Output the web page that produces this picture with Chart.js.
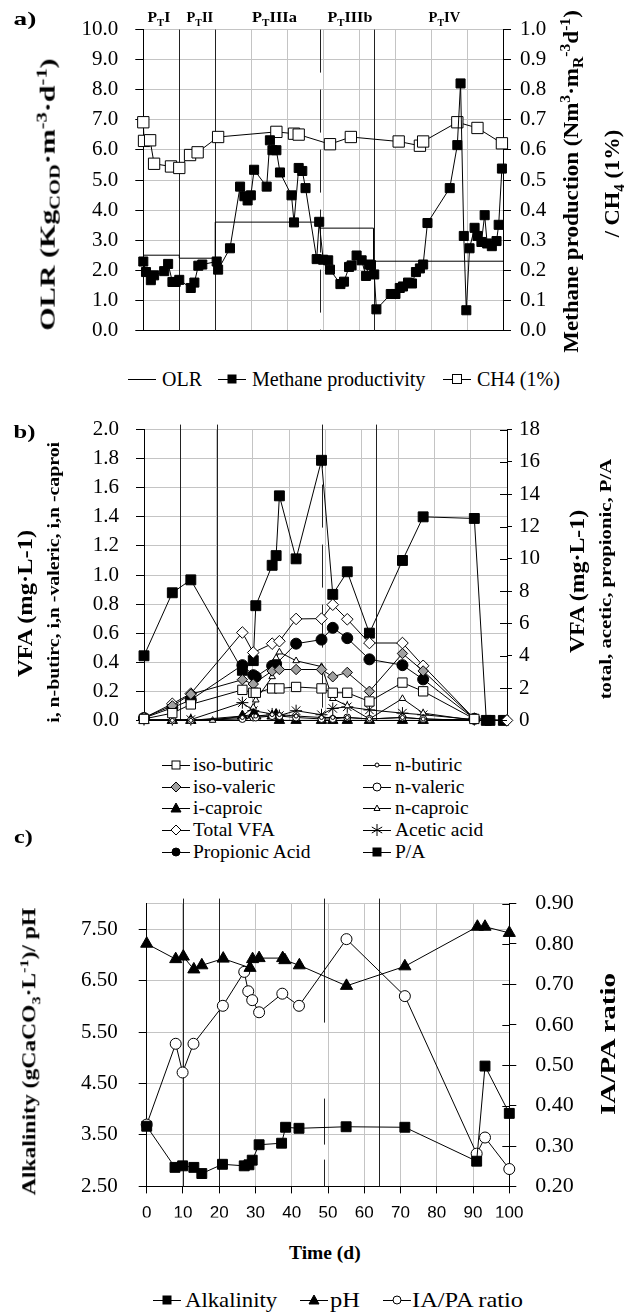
<!DOCTYPE html>
<html>
<head>
<meta charset="utf-8">
<title>Reactor follow-up: OLR, VFA, alkalinity</title>
<script src="https://cdn.jsdelivr.net/npm/chart.js@4.4.1/dist/chart.umd.min.js"></script>
<style>
html, body { margin:0; padding:0; background:#fff; }
#page { position:relative; width:624px; height:1315px; overflow:hidden; background:#fff; font-family:"Liberation Serif","Times New Roman",serif; color:#000; }
#page canvas { position:absolute; left:0; }
.txt { position:absolute; white-space:nowrap; line-height:1; }
.txt sub, .txt sup { font-size:68%; line-height:0; }
.mk { position:absolute; line-height:0; }
</style>
</head>
<body>
<div id="page">
  <canvas id="chartA" width="624" height="360" style="top:0px;width:624px;height:360px;"></canvas>
  <canvas id="chartB" width="624" height="350" style="top:400px;width:624px;height:350px;"></canvas>
  <canvas id="chartC" width="624" height="350" style="top:870px;width:624px;height:350px;"></canvas>
</div>
<script>
// ===== common =====
var GRID = "#c4c4c4";
var SERIF = "'Liberation Serif', 'Times New Roman', serif";
var SANS = "'Liberation Sans', Arial, sans-serif";
Chart.defaults.font.family = SERIF;
Chart.defaults.color = "#000";

// period boundaries (days)
var PERIOD_DAYS = [10, 20, 64];
var DASH_DAYS = [49];
var PERIOD_NAMES = ["P<sub>T</sub>I", "P<sub>T</sub>II", "P<sub>T</sub>IIIa", "P<sub>T</sub>IIIb", "P<sub>T</sub>IV"];

var X_TICKS = [0, 10, 20, 30, 40, 50, 60, 70, 80, 90, 100];

// ===== a) OLR / methane =====
var OLR_TICKS = [0, 1, 2, 3, 4, 5, 6, 7, 8, 9, 10];
var PROD_TICKS = [0, 0.1, 0.2, 0.3, 0.4, 0.5, 0.6, 0.7, 0.8, 0.9, 1.0];

var OLR_DAYS = [0, 10, 20, 49, 64, 100];
var OLR = [2.5, 2.4, 3.6, 3.4, 2.3, 2.3];

var METHANE_DAYS = [0, 0.75, 2.1, 3, 5.8, 6.9, 8.1, 9, 10, 13.2, 14.2, 15.3, 16.4, 20.4, 20.8, 24.1,
  26.9, 28.1, 29, 29.9, 30.8, 34.3, 35.2, 35.9, 37, 38, 41.2, 41.9, 43.2, 44.2, 45.1, 48.2, 48.9,
  50, 51.4, 51.9, 54.8, 55.8, 57.2, 57.9, 59.3, 60.7, 61.9, 62.7, 63.3, 64.2, 64.8, 68.8, 70.1,
  71.3, 72.2, 73.6, 74.7, 75.8, 76.9, 77.8, 79, 85.2, 87.3, 88.2, 89.1, 89.8, 90.7, 92.1, 92.9,
  94, 94.9, 95.6, 96.9, 98.2, 98.8, 99.7];
var METHANE = [0.229, 0.194, 0.167, 0.183, 0.197, 0.221, 0.161, 0.161, 0.168, 0.141, 0.159, 0.215, 0.219, 0.229, 0.202, 0.273,
  0.478, 0.446, 0.432, 0.449, 0.534, 0.478, 0.632, 0.599, 0.599, 0.525, 0.449, 0.359, 0.540, 0.530, 0.473, 0.237, 0.361,
  0.235, 0.233, 0.202, 0.154, 0.162, 0.211, 0.216, 0.249, 0.233, 0.181, 0.219, 0.217, 0.186, 0.070, 0.121, 0.121,
  0.141, 0.146, 0.159, 0.156, 0.194, 0.206, 0.219, 0.357, 0.473, 0.616, 0.821, 0.314, 0.067, 0.273, 0.341, 0.314,
  0.294, 0.383, 0.289, 0.280, 0.297, 0.351, 0.538];

var CH4_DAYS = [0, 0.2, 1.9, 3, 7.7, 10, 13, 15.1, 20.8, 37, 41.9, 43.2, 51.9, 57.7, 71, 76.9, 77.8, 87.3, 92.9, 99.7];
var CH4 = [0.692, 0.630, 0.632, 0.554, 0.545, 0.540, 0.583, 0.592, 0.643, 0.660, 0.654, 0.651, 0.619, 0.643, 0.628, 0.614, 0.628, 0.692, 0.673, 0.622];

// ===== b) VFA =====
var VFA_L_TICKS = [0, 0.2, 0.4, 0.6, 0.8, 1.0, 1.2, 1.4, 1.6, 1.8, 2.0];
var VFA_R_TICKS = [0, 2, 4, 6, 8, 10, 12, 14, 16, 18];

var VFA_DAYS = [0, 7.8, 12.9, 18.9, 27.1, 30.1, 30.8, 35.3, 36.4, 37.3, 41.9, 48.9, 52, 56, 62.1, 71.2, 76.9, 91, 94.3, 95.3, 99, 100];
var ISO_BUTIRIC = [0.01, 0.05, 0.11, null, 0.21, 0.19, 0.19, 0.22, null, 0.22, 0.23, 0.22, 0.19, 0.19, 0.13, 0.26, 0.20, 0.01, null, null, null, null];
var N_BUTIRIC   = [0, 0, 0, null, 0.02, 0.03, 0.03, 0.04, null, 0.04, 0.03, 0.02, 0.02, 0.02, 0.01, 0.02, 0.01, 0, null, null, null, null];
var ISO_VALERIC = [0.02, 0.10, 0.18, null, 0.28, 0.25, null, 0.34, null, 0.35, 0.35, 0.35, 0.30, 0.33, 0.20, 0.46, 0.34, 0.01, null, null, null, null];
var N_VALERIC   = [0, 0, 0, null, 0.01, 0.02, 0.02, 0.03, null, 0.03, 0.02, 0.01, 0.01, 0.02, 0.01, 0.02, 0.01, 0, null, null, null, null];
var I_CAPROIC   = [0, 0, 0, null, 0.03, 0.04, 0.03, 0.03, 0.04, 0, 0, 0, 0, 0, 0, 0, 0, 0.01, null, null, null, null];
var N_CAPROIC   = [0, 0, 0, 0, 0.03, 0.09, 0.14, 0.30, 0.43, 0.47, 0.41, 0.37, 0.15, 0.10, 0.01, 0.15, 0.05, 0, null, null, null, null];
var TOTAL_VFA   = [0.15, 1.03, 1.66, null, 5.44, 4.2, null, 4.75, null, 4.9, 6.28, 6.3, 7.16, 6.26, 4.79, 4.79, 3.38, 0.1, null, null, null, 0];
var ACETIC      = [0.05, 0.05, 0.05, null, 1.1, 0.6, null, 0.4, null, 0.3, 0.6, 0.35, 0.74, 0.84, 0.65, 0.45, 0.35, 0.05, null, null, null, null];
var PROPIONIC   = [0.15, 0.78, 1.27, null, 3.42, 2.8, 2.7, 3.38, 3.5, null, 4.75, 5.0, 5.73, 5.09, 3.78, 3.42, 2.54, 0.1, null, null, null, null];
var P_A         = [4.0, 7.9, 8.7, null, 3.1, 3.7, 7.1, 9.6, 10.2, 13.9, 10.0, 16.1, 7.8, 9.2, 5.4, 9.9, 12.6, 12.5, 0, 0, 0, null];

// ===== c) alkalinity / pH / IA:PA =====
var ALK_TICKS = [2.5, 3.5, 4.5, 5.5, 6.5, 7.5, 8.0];
var RATIO_TICKS = [0.2, 0.3, 0.4, 0.5, 0.6, 0.7, 0.8, 0.9];

var ALK_DAYS = [0, 7.8, 9.9, 13, 15.2, 20.9, 26.9, 28.2, 29.1, 31, 37.2, 38.3, 42, 55, 71.2, 91, 93.3, 100];
var ALKALINITY = [3.67, 2.87, 2.90, 2.87, 2.75, 2.93, 2.90, 2.92, 3.01, 3.31, 3.34, 3.65, 3.63, 3.66, 3.65, 2.99, 4.84, 3.92];
var PH_DAYS = [0, 8, 10.1, 13, 15.2, 21.1, 28.5, 29.2, 31, 37.5, 38.1, 42.1, 55.1, 71.2, 91.2, 93.3, 100];
var PH = [7.22, 6.92, 6.97, 6.72, 6.80, 6.93, 6.75, 6.92, 6.94, 6.94, 6.90, 6.80, 6.40, 6.78, 7.55, 7.55, 7.43];
var IAPA_DAYS = [0, 8, 9.9, 12.9, 21, 26.9, 28, 29.1, 31, 37.4, 42, 55.1, 71.2, 91, 93.3, 100];
var IAPA = [0.353, 0.553, 0.482, 0.553, 0.647, 0.731, 0.683, 0.661, 0.631, 0.677, 0.647, 0.812, 0.671, 0.281, 0.321, 0.243];

// ===== helpers =====
function pairs(days, vals) {
  var out = [];
  for (var i = 0; i < days.length; i++) {
    if (vals[i] !== null && vals[i] !== undefined) out.push({ x: days[i], y: vals[i] });
  }
  return out;
}

function series(label, days, vals, axis, style, radius, fill) {
  return {
    label: label, data: pairs(days, vals), yAxisID: axis,
    borderColor: "#000", borderWidth: 1, tension: 0, clip: false,
    pointStyle: style, pointRadius: radius, pointBackgroundColor: fill,
    pointBorderColor: "#000", pointBorderWidth: 1
  };
}

function fixedTicks(list) {
  return function (s) { s.ticks = list.map(function (v) { return { value: v }; }); };
}

function yAxis(pos, list, dec, width, pad, opt) {
  opt = opt || {};
  var top = list[list.length - 1], bottom = list[0];
  return {
    type: "linear", position: pos, min: bottom, max: top,
    afterBuildTicks: fixedTicks(list),
    afterFit: function (s) { s.width = width; },
    ticks: {
      color: "#000", padding: pad, font: { family: SERIF, size: opt.size || 21 },
      callback: function (v) { return (opt.hideTop && v === top) ? "" : v.toFixed(dec); }
    },
    grid: {
      drawOnChartArea: pos === "left", tickLength: opt.tick || 8,
      color: function (c) { return c.tick && c.tick.value === bottom ? "rgba(0,0,0,0)" : GRID; },
      tickColor: function (c) { return (opt.hideTop && c.tick && c.tick.value === top) ? "rgba(0,0,0,0)" : "#000"; }
    },
    border: { color: "#000", width: 1 }
  };
}

function xAxis(height, labels) {
  return {
    type: "linear", min: 0, max: 100,
    afterBuildTicks: fixedTicks(X_TICKS),
    afterFit: function (s) { s.height = height; },
    ticks: { display: labels, color: "#000", padding: 10, maxRotation: 0, autoSkip: false, font: { family: SANS, size: 17 } },
    grid: { color: GRID, drawTicks: labels, tickColor: "#000", tickLength: 7 },
    border: { color: "#000", width: 1 }
  };
}

// vertical lines at period changes
var periodLines = {
  id: "periodLines",
  beforeDatasetsDraw: function (chart, args, o) {
    var x = chart.scales.x, a = chart.chartArea, c = chart.ctx;
    c.save();
    c.strokeStyle = "#222";
    c.lineWidth = 1;
    PERIOD_DAYS.forEach(function (d) {
      var px = Math.round(x.getPixelForValue(d)) + 0.5;
      c.beginPath(); c.moveTo(px, a.top - o.ext); c.lineTo(px, a.bottom); c.stroke();
    });
    c.setLineDash(o.dash);
    DASH_DAYS.forEach(function (d) {
      var px = Math.round(x.getPixelForValue(d)) + 0.5;
      c.beginPath(); c.moveTo(px, a.top - o.ext); c.lineTo(px, a.bottom); c.stroke();
    });
    c.restore();
  }
};

// inner half of the right-axis tick marks
var crossTicks = {
  id: "crossTicks",
  afterDraw: function (chart, args, o) {
    if (!o.len) return;
    var s = chart.scales.y1, a = chart.chartArea, c = chart.ctx;
    c.save();
    c.strokeStyle = "#000";
    c.lineWidth = 1;
    s.ticks.forEach(function (t) {
      var py = Math.round(s.getPixelForValue(t.value)) + 0.5;
      c.beginPath(); c.moveTo(a.right - o.len, py); c.lineTo(a.right, py); c.stroke();
    });
    c.restore();
  }
};

function baseOptions(padTop, xs, ys, dash, ext, cross) {
  return {
    responsive: false, animation: false, events: [],
    layout: { padding: { top: padTop, left: 0, right: 0, bottom: 0 } },
    plugins: {
      legend: { display: false }, tooltip: { enabled: false },
      periodLines: { dash: dash, ext: ext },
      crossTicks: { len: cross }
    },
    scales: { x: xs, y: ys[0], y1: ys[1] }
  };
}

// ===== a) =====
new Chart(document.getElementById("chartA"), {
  type: "line",
  data: {
    datasets: [
      { label: "OLR", data: pairs(OLR_DAYS, OLR), yAxisID: "y", borderColor: "#000", borderWidth: 1, pointRadius: 0, stepped: true, clip: false },
      series("Methane productivity", METHANE_DAYS, METHANE, "y1", "rect", 6.4, "#000"),
      series("CH4 (1%)", CH4_DAYS, CH4, "y1", "rect", 8, "#fff")
    ]
  },
  options: baseOptions(29.3, xAxis(22.7, false),
    [yAxis("left", OLR_TICKS, 1, 143.3, 17), yAxis("right", PROD_TICKS, 1, 121, 9)],
    [43, 17], 0, 0),
  plugins: [periodLines, crossTicks]
});

// ===== b) =====
new Chart(document.getElementById("chartB"), {
  type: "line",
  data: {
    datasets: [
      series("iso-butiric", VFA_DAYS, ISO_BUTIRIC, "y", "rect", 6.6, "#fff"),
      series("n-butiric", VFA_DAYS, N_BUTIRIC, "y", "circle", 2, "#fff"),
      series("iso-valeric", VFA_DAYS, ISO_VALERIC, "y", "rectRot", 5.2, "#a0a0a0"),
      series("n-valeric", VFA_DAYS, N_VALERIC, "y", "circle", 3.5, "#fff"),
      series("i-caproic", VFA_DAYS, I_CAPROIC, "y", "triangle", 6, "#000"),
      series("n-caproic", VFA_DAYS, N_CAPROIC, "y", "triangle", 3.8, "#fff"),
      series("Total VFA", VFA_DAYS, TOTAL_VFA, "y1", "rectRot", 5.8, "#fff"),
      series("Acetic acid", VFA_DAYS, ACETIC, "y1", "star", 6, "#000"),
      series("Propionic Acid", VFA_DAYS, PROPIONIC, "y1", "circle", 5.5, "#000"),
      series("P/A", VFA_DAYS, P_A, "y1", "rect", 7, "#000")
    ]
  },
  options: baseOptions(17.5, xAxis(25.7, false),
    [yAxis("left", VFA_L_TICKS, 1, 144, 17), yAxis("right", VFA_R_TICKS, 0, 117, 7, { tick: 5 })],
    [43, 17], 5, 7),
  plugins: [periodLines, crossTicks]
});

// ===== c) =====
new Chart(document.getElementById("chartC"), {
  type: "line",
  data: {
    datasets: [
      series("Alkalinity", ALK_DAYS, ALKALINITY, "y", "rect", 7, "#000"),
      series("pH", PH_DAYS, PH, "y", "triangle", 7, "#000"),
      series("IA/PA ratio", IAPA_DAYS, IAPA, "y1", "circle", 5.5, "#fff")
    ]
  },
  options: baseOptions(25.7, xAxis(31, true),
    [yAxis("left", ALK_TICKS, 2, 146.7, 21, { hideTop: true }), yAxis("right", RATIO_TICKS, 2, 114.7, 19, { tick: 7, size: 22 })],
    [124, 76, 46, 15], 5, 7),
  plugins: [periodLines, crossTicks]
});

// ===== text: titles, labels, legends =====
var page = document.getElementById("page");

function label(html, cx, cy, size, rot, len, bold) {
  var s = document.createElement("span");
  s.className = "txt";
  s.innerHTML = html;
  s.style.fontSize = size + "px";
  if (bold) s.style.fontWeight = "bold";
  page.appendChild(s);
  var w = s.offsetWidth, h = s.offsetHeight;
  var k = len ? len / w : 1;
  s.style.left = (cx - w / 2) + "px";
  s.style.top = (cy - h / 2) + "px";
  s.style.transform = "rotate(" + (rot || 0) + "deg) scaleX(" + k + ")";
  return s;
}

function leftText(html, x, cy, size, len) {
  var s = document.createElement("span");
  s.className = "txt";
  s.innerHTML = html;
  s.style.fontSize = size + "px";
  page.appendChild(s);
  var w = s.offsetWidth, h = s.offsetHeight;
  s.style.left = x + "px";
  s.style.top = (cy - h / 2) + "px";
  s.style.transformOrigin = "0 50%";
  if (len) s.style.transform = "scaleX(" + (len / w) + ")";
}

// rotated title that starts at startY and is cut off at clipTop
function clippedTitle(full, shown, cx, startY, clipTop, size) {
  var box = document.createElement("div");
  box.style.cssText = "position:absolute;overflow:hidden;left:" + (cx - 15) + "px;top:" + clipTop + "px;width:30px;height:" + (startY + 4 - clipTop) + "px;";
  page.appendChild(box);
  var probe = document.createElement("span");
  probe.className = "txt";
  probe.style.fontSize = size + "px";
  probe.style.fontWeight = "bold";
  probe.textContent = shown;
  box.appendChild(probe);
  var ws = probe.offsetWidth;
  box.removeChild(probe);
  var s = document.createElement("span");
  s.className = "txt";
  s.style.fontSize = size + "px";
  s.style.fontWeight = "bold";
  s.textContent = full;
  box.appendChild(s);
  var wf = s.offsetWidth, h = s.offsetHeight;
  var k = (startY - clipTop) / ws;
  var cy = startY - k * wf / 2 - clipTop;
  s.style.left = (15 - wf / 2) + "px";
  s.style.top = (cy - h / 2) + "px";
  s.style.transform = "rotate(-90deg) scaleX(" + k + ")";
}

function markerSvg(shape, fill) {
  var p = "";
  if (shape === "rect") p = "<rect x='10' y='4' width='8' height='8' fill='" + fill + "' stroke='#000'/>";
  else if (shape === "bigrect") p = "<rect x='9.5' y='3.5' width='9' height='9' fill='" + fill + "' stroke='#000'/>";
  else if (shape === "diamond") p = "<polygon points='14,3 19,8 14,13 9,8' fill='" + fill + "' stroke='#000'/>";
  else if (shape === "triangle") p = "<polygon points='14,3 19,12 9,12' fill='" + fill + "' stroke='#000'/>";
  else if (shape === "smalltri") p = "<polygon points='14,5 17,10.5 11,10.5' fill='" + fill + "' stroke='#000'/>";
  else if (shape === "circle") p = "<circle cx='14' cy='8' r='4' fill='" + fill + "' stroke='#000'/>";
  else if (shape === "dot") p = "<circle cx='14' cy='8' r='2' fill='" + fill + "' stroke='#000'/>";
  else if (shape === "star") p = "<path d='M14,2V14M8.8,5L19.2,11M8.8,11L19.2,5' stroke='#000' fill='none'/>";
  return "<svg width='28' height='16' viewBox='0 0 28 16'><line x1='0' y1='8.5' x2='28' y2='8.5' stroke='#000' stroke-width='1'/>" + p + "</svg>";
}

function marker(shape, fill, x, cy) {
  var d = document.createElement("div");
  d.className = "mk";
  d.style.left = x + "px";
  d.style.top = (cy - 8) + "px";
  d.innerHTML = markerSvg(shape, fill);
  page.appendChild(d);
}

// a)
label("a)", 25, 18, 19, 0, 23, true);
var PERIOD_X = [159, 199.5, 274, 350, 444];
var PERIOD_W = [23, 27, 45, 45, 32];
for (var i = 0; i < PERIOD_NAMES.length; i++) label(PERIOD_NAMES[i], PERIOD_X[i], 17, 15, 0, PERIOD_W[i], true);
label("OLR (Kg<sub>COD</sub>·m<sup>-3</sup>·d<sup>-1</sup>)", 48, 194, 21, -90, 272, true);
label("Methane production (Nm<sup>3</sup>·m<sub>R</sub><sup>-3</sup>d<sup>-1</sup>)", 571, 181, 21, -90, 343, true);
label("/ CH<sub>4</sub> (1%)", 612, 183, 21, -90, 107, true);

marker("none", "#000", 128, 379);
leftText("OLR", 162, 379, 21, 40);
marker("rect", "#000", 218, 379);
leftText("Methane productivity", 252, 379, 21, 173);
marker("bigrect", "#fff", 443, 379);
leftText("CH4 (1%)", 477, 379, 21, 83);

// b)
label("b)", 24, 431, 19, 0, 22, true);
label("VFA (mg·L-1)", 25, 603, 21, -90, 147, true);
clippedTitle("i, n-butirc, i,n -valeric, i,n -caproic", "i, n-butirc, i,n -valeric, i,n -caproi", 54, 723, 442, 16);
label("VFA (mg·L-1)", 577, 581, 21, -90, 143, true);
label("total, acetic, propionic, P/A", 605, 579, 16, -90, 240, true);

var LEG_B_ROWS = [765, 786.7, 808.3, 830, 851.5];
var LEG_B_LEFT = [["rect", "#fff", "iso-butiric"], ["diamond", "#a0a0a0", "iso-valeric"], ["triangle", "#000", "i-caproic"], ["diamond", "#fff", "Total VFA"], ["circle", "#000", "Propionic Acid"]];
var LEG_B_RIGHT = [["dot", "#fff", "n-butiric"], ["circle", "#fff", "n-valeric"], ["smalltri", "#fff", "n-caproic"], ["star", "#000", "Acetic acid"], ["rect", "#000", "P/A"]];
for (var r = 0; r < LEG_B_ROWS.length; r++) {
  marker(LEG_B_LEFT[r][0], LEG_B_LEFT[r][1], 162, LEG_B_ROWS[r]);
  leftText(LEG_B_LEFT[r][2], 193, LEG_B_ROWS[r], 19.5);
  marker(LEG_B_RIGHT[r][0], LEG_B_RIGHT[r][1], 363, LEG_B_ROWS[r]);
  leftText(LEG_B_RIGHT[r][2], 395, LEG_B_ROWS[r], 19.5);
}

// c)
label("c)", 23, 836, 19, 0, 19, true);
label("Alkalinity (gCaCO<sub>3</sub>·L<sup>-1</sup>)/ pH", 29, 1051, 19, -90, 288, true);
label("IA/PA ratio", 608, 1044, 20, -90, 142, true);
label("Time (d)", 325, 1253, 19.5, 0, 72, true);

marker("rect", "#000", 153, 1300);
leftText("Alkalinity", 185, 1300, 22, 92);
marker("triangle", "#000", 300, 1300);
leftText("pH", 330, 1300, 22, 30);
marker("circle", "#fff", 383, 1300);
leftText("IA/PA ratio", 412, 1300, 22, 111);
</script>
</body>
</html>
